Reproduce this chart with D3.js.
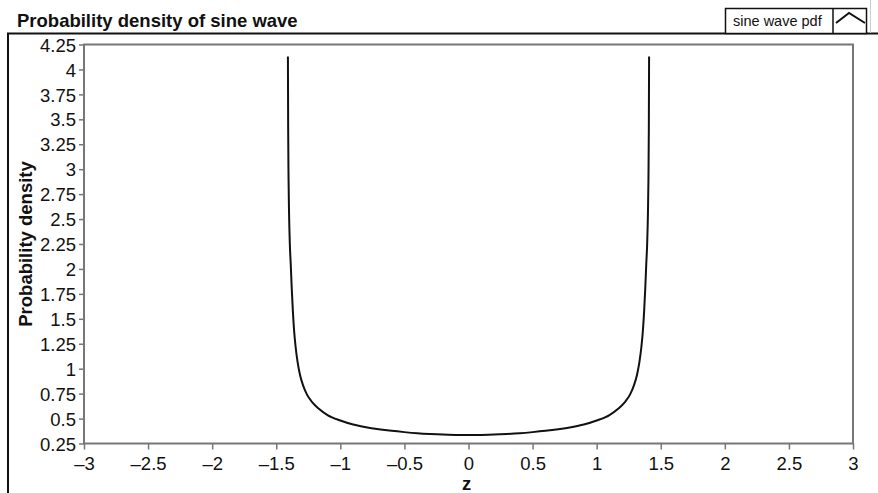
<!DOCTYPE html>
<html>
<head>
<meta charset="utf-8">
<script src="https://cdn.jsdelivr.net/npm/d3@7"></script>
<style>
  html, body { margin: 0; padding: 0; background: #fff; }
  svg { display: block; font-family: "Liberation Sans", Arial, Helvetica, sans-serif; }
</style>
</head>
<body>
<svg id="chart" width="878" height="493"></svg>
<script>
// ---- data ----
const zValues = [-1.409, -1.407, -1.404, -1.400, -1.394, -1.387, -1.379, -1.370, -1.360, -1.349,
                 -1.334, -1.315, -1.290, -1.260, -1.220, -1.170, -1.100, -1.000, -0.900, -0.800,
                 -0.700, -0.600, -0.500, -0.400, -0.300, -0.200, -0.100, 0.000,
                 0.100, 0.200, 0.300, 0.400, 0.500, 0.600, 0.700, 0.800, 0.900, 1.000,
                 1.100, 1.170, 1.220, 1.260, 1.290, 1.315, 1.334, 1.349, 1.360, 1.370,
                 1.379, 1.387, 1.394, 1.400, 1.404, 1.407, 1.409];
const pdfValues = [4.13, 3.40, 2.90, 2.55, 2.25, 2.05, 1.80, 1.57, 1.37, 1.22,
                   1.07, 0.94, 0.83, 0.74, 0.665, 0.60, 0.535, 0.48, 0.44, 0.413,
                   0.393, 0.377, 0.364, 0.353, 0.345, 0.339, 0.336, 0.335,
                   0.336, 0.339, 0.345, 0.353, 0.364, 0.377, 0.393, 0.413, 0.44, 0.48,
                   0.535, 0.60, 0.665, 0.74, 0.83, 0.94, 1.07, 1.22, 1.37, 1.57,
                   1.80, 2.05, 2.25, 2.55, 2.90, 3.40, 4.13];
const xTicks = [-3, -2.5, -2, -1.5, -1, -0.5, 0, 0.5, 1, 1.5, 2, 2.5, 3];
const xTickLabels = ["–3", "–2.5", "–2", "–1.5", "–1", "–0.5", "0", "0.5", "1", "1.5", "2", "2.5", "3"];
const yTicks = [0.25, 0.5, 0.75, 1, 1.25, 1.5, 1.75, 2, 2.25, 2.5, 2.75, 3, 3.25, 3.5, 3.75, 4, 4.25];
const yTickLabels = ["0.25", "0.5", "0.75", "1", "1.25", "1.5", "1.75", "2", "2.25", "2.5", "2.75", "3", "3.25", "3.5", "3.75", "4", "4.25"];
const titleText = "Probability density of sine wave";
const legendLabel = "sine wave pdf";
const xLabel = "z";
const yLabel = "Probability density";

// ---- layout ----
const svg = d3.select("#chart");
const plot = { left: 84, right: 853, top: 44.5, bottom: 443.5 };

const x = d3.scaleLinear().domain([-3, 3]).range([plot.left, plot.right]);
const y = d3.scaleLinear().domain([0.25, 4.25]).range([plot.bottom, plot.top]);

// outer frame (black)
svg.append("path")
  .attr("d", `M8,493 L8,33.5 L878,33.5`)
  .attr("fill", "none").attr("stroke", "#111").attr("stroke-width", 2);

// title
svg.append("text").attr("x", 17).attr("y", 27)
  .attr("font-size", 18.5).attr("font-weight", "bold").attr("fill", "#111")
  .text(titleText);

// legend
const lg = svg.append("g");
lg.append("rect").attr("x", 725.5).attr("y", 8.5).attr("width", 141).attr("height", 25)
  .attr("fill", "#fff").attr("stroke", "#111").attr("stroke-width", 1.5);
lg.append("line").attr("x1", 833).attr("x2", 833).attr("y1", 8.5).attr("y2", 33.5)
  .attr("stroke", "#111").attr("stroke-width", 1.5);
lg.append("text").attr("x", 733).attr("y", 25.5).attr("font-size", 14.5).attr("fill", "#111")
  .text(legendLabel);
lg.append("polyline").attr("points", "836,23 849,13 865,23")
  .attr("fill", "none").attr("stroke", "#111").attr("stroke-width", 2);
svg.append("line").attr("x1", 870.5).attr("x2", 870.5).attr("y1", 0).attr("y2", 33)
  .attr("stroke", "#ccc").attr("stroke-width", 1);

// axes
const xAxis = d3.axisBottom(x).tickValues(xTicks)
  .tickFormat((d, i) => xTickLabels[i]).tickSize(6).tickSizeOuter(0).tickPadding(7);
const yAxis = d3.axisLeft(y).tickValues(yTicks)
  .tickFormat((d, i) => yTickLabels[i]).tickSize(5).tickSizeOuter(0).tickPadding(3);

const gx = svg.append("g").attr("transform", `translate(0,${plot.bottom})`).call(xAxis);
const gy = svg.append("g").attr("transform", `translate(${plot.left},0)`).call(yAxis);
[gx, gy].forEach(g => {
  g.attr("font-size", 18.5).attr("font-family", "'Liberation Sans', Arial, Helvetica, sans-serif");
  g.select(".domain").remove();
  g.selectAll(".tick line").attr("stroke", "#777").attr("stroke-width", 1.5);
  g.selectAll(".tick text").attr("fill", "#111");
});
gy.selectAll(".tick text").attr("dy", "0.36em");
gx.selectAll(".tick text").attr("dy", "0.72em");

// plot frame (gray)
svg.append("rect")
  .attr("x", plot.left).attr("y", plot.top)
  .attr("width", plot.right - plot.left).attr("height", plot.bottom - plot.top)
  .attr("fill", "none").attr("stroke", "#777").attr("stroke-width", 2);

// curve
const pts = zValues.map((z, i) => [z, pdfValues[i]]);
const line = d3.line().x(d => x(d[0])).y(d => y(d[1])).curve(d3.curveMonotoneX);
svg.append("path").datum(pts)
  .attr("d", line)
  .attr("fill", "none").attr("stroke", "#111").attr("stroke-width", 2)
  .attr("stroke-linejoin", "round");

// axis labels
svg.append("text").attr("x", (plot.left + plot.right) / 2 - 2).attr("y", 490)
  .attr("text-anchor", "middle").attr("font-size", 18.5).attr("font-weight", "bold").attr("fill", "#111")
  .text(xLabel);
svg.append("text")
  .attr("transform", `translate(32,${(plot.top + plot.bottom) / 2}) rotate(-90)`)
  .attr("text-anchor", "middle").attr("font-size", 18.5).attr("font-weight", "bold").attr("fill", "#111")
  .text(yLabel);
</script>
</body>
</html>
